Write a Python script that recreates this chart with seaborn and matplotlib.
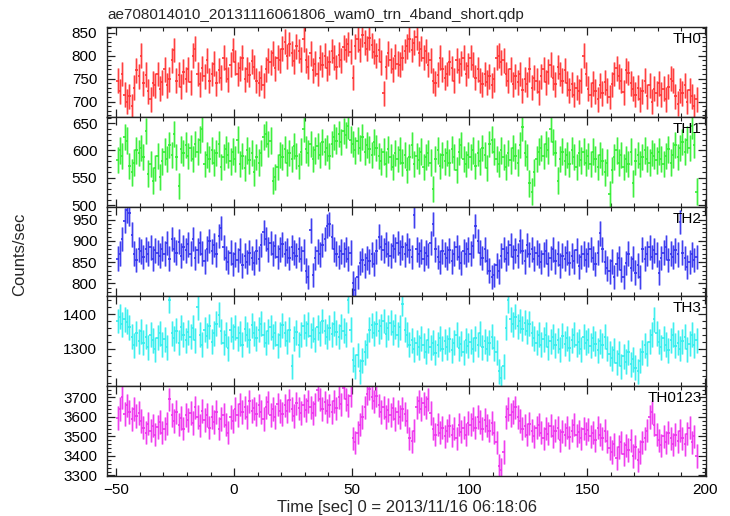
import numpy as np
import pandas as pd
import matplotlib
matplotlib.use("Agg")
import matplotlib.pyplot as plt
import seaborn as sns
from matplotlib.ticker import MultipleLocator, FixedLocator

# ---------------- data (1-s bins, centres from -49.5 s to 196.5 s) ----------------
t_first = -49.5
t_last = 196.5
bin_half = 0.5

th0 = [745, 722, 760, 715, 700, 712, 690, 730, 768, 755,
       800, 740, 758, 722, 705, 740, 735, 760, 728, 742,
       770, 735, 748, 790, 812, 745, 758, 732, 765, 748,
       770, 742, 800, 815, 760, 738, 772, 755, 790, 745,
       760, 782, 740, 768, 752, 795, 770, 748, 780, 812,
       785, 760, 772, 795, 748, 770, 758, 788, 775, 745,
       740, 752, 735, 770, 790, 785, 805, 772, 795, 790,
       815, 830, 798, 825, 805, 788, 820, 810, 792, 835,
       790, 775, 805, 768, 782, 760, 795, 780, 800, 772,
       785, 810, 795, 775, 802, 790, 818, 812, 825, 808,
       752, 820, 835, 812, 845, 828, 815, 838, 822, 808,
       800, 812, 785, 718, 775, 805, 790, 770, 798, 782,
       780, 795, 810, 820, 835, 812, 828, 840, 805, 815,
       795, 810, 780, 790, 745, 740, 758, 795, 770, 752,
       760, 785, 772, 745, 790, 768, 782, 795, 760, 778,
       795, 780, 752, 770, 745, 738, 760, 742, 755, 735,
       748, 795, 800, 785, 790, 760, 745, 770, 738, 755,
       742, 760, 725, 748, 738, 770, 730, 752, 745, 720,
       755, 770, 742, 765, 780, 752, 738, 775, 760, 745,
       768, 740, 725, 738, 715, 730, 722, 745, 800, 760,
       728, 715, 740, 722, 705, 735, 718, 742, 725, 710,
       738, 760, 772, 755, 745, 720, 768, 762, 740, 728,
       715, 730, 705, 722, 745, 712, 735, 700, 728, 718,
       740, 715, 728, 705, 732, 750, 745, 712, 695, 725,
       718, 735, 700, 725, 712, 690, 705]

th1 = [583, 600, 590, 625, 618, 572, 560, 578, 600, 595,
       604, 588, 635, 558, 575, 545, 568, 590, 552, 580,
       598, 585, 610, 592, 630, 588, 535, 602, 595, 610,
       590, 605, 585, 612, 598, 620, 640, 575, 592, 585,
       600, 578, 595, 612, 570, 588, 602, 592, 580, 598,
       585, 620, 575, 590, 568, 600, 582, 595, 560, 588,
       578, 595, 625, 630, 612, 618, 545, 552, 570, 592,
       588, 602, 578, 595, 585, 608, 590, 572, 598, 640,
       602, 595, 612, 585, 600, 608, 592, 615, 598, 605,
       590, 612, 625, 618, 630, 615, 635, 628, 645, 620,
       612, 600, 618, 605, 625, 598, 610, 602, 592, 615,
       605, 590, 580, 598, 575, 602, 588, 570, 595, 585,
       600, 578, 592, 565, 588, 610, 575, 590, 582, 598,
       570, 588, 595, 578, 530, 585, 600, 572, 592, 580,
       595, 578, 602, 588, 565, 598, 610, 585, 575, 592,
       588, 600, 572, 595, 580, 605, 592, 568, 612, 620,
       598, 585, 575, 600, 588, 570, 595, 582, 605, 590,
       578, 610, 642, 595, 588, 540, 525, 560, 585, 598,
       605, 590, 612, 600, 640, 615, 595, 545, 585, 598,
       580, 592, 575, 600, 588, 570, 595, 582, 598, 578,
       590, 575, 598, 585, 570, 592, 580, 560, 578, 520,
       565, 588, 600, 578, 592, 570, 585, 575, 598, 540,
       580, 592, 575, 588, 600, 585, 578, 595, 590, 582,
       598, 585, 575, 590, 602, 578, 592, 610, 588, 605,
       615, 598, 620, 605, 645, 610, 525]

th2 = [858, 870, 905, 948, 972, 965, 915, 870, 855, 880,
       875, 862, 880, 870, 885, 858, 878, 872, 865, 882,
       870, 895, 858, 905, 880, 872, 898, 865, 885, 878,
       892, 870, 905, 860, 878, 895, 870, 852, 882, 900,
       875, 890, 868, 912, 930, 885, 860, 850, 872, 845,
       868, 855, 878, 842, 865, 850, 872, 860, 848, 875,
       858, 890, 920, 905, 880, 895, 870, 888, 862, 880,
       892, 870, 878, 860, 885, 872, 865, 880, 858, 875,
       830, 815, 925, 820, 860, 875, 868, 890, 905, 935,
       940, 910, 880, 870, 862, 875, 868, 880, 858, 872,
       800, 785, 815, 848, 855, 842, 860, 852, 868, 845,
       875, 910, 885, 878, 892, 870, 865, 888, 880, 895,
       872, 885, 868, 890, 878, 862, 960, 880, 868, 875,
       858, 872, 865, 895, 940, 880, 862, 850, 875, 868,
       860, 878, 852, 870, 885, 862, 848, 875, 868, 880,
       870, 888, 935, 900, 872, 860, 880, 852, 830, 815,
       820, 842, 828, 865, 880, 858, 872, 890, 862, 878,
       865, 900, 875, 852, 890, 868, 880, 858, 872, 865,
       850, 868, 875, 845, 860, 880, 852, 870, 842, 865,
       858, 872, 848, 865, 852, 878, 840, 862, 870, 855,
       868, 880, 860, 845, 872, 918, 880, 850, 835, 828,
       852, 815, 845, 860, 832, 815, 848, 870, 835, 858,
       825, 842, 815, 880, 858, 870, 885, 862, 878, 868,
       825, 860, 872, 885, 855, 870, 862, 878, 868, 945,
       872, 860, 838, 850, 868, 855, 862]

th3 = [1380, 1392, 1370, 1385, 1378, 1362, 1335, 1310, 1345, 1322,
       1350, 1318, 1335, 1305, 1340, 1325, 1298, 1332, 1345, 1312,
       1328, 1305, 1440, 1345, 1330, 1352, 1318, 1362, 1340, 1325,
       1348, 1335, 1360, 1325, 1420, 1340, 1312, 1355, 1338, 1365,
       1320, 1345, 1372, 1398, 1350, 1318, 1340, 1302, 1355, 1335,
       1362, 1330, 1345, 1312, 1358, 1340, 1325, 1368, 1345, 1330,
       1355, 1372, 1340, 1318, 1350, 1362, 1335, 1345, 1310, 1340,
       1368, 1345, 1322, 1355, 1250, 1330, 1348, 1312, 1340, 1365,
       1345, 1370, 1338, 1355, 1328, 1362, 1345, 1380, 1350, 1335,
       1360, 1342, 1372, 1348, 1335, 1365, 1352, 1340, 1440, 1355,
       1268, 1250, 1282, 1235, 1265, 1290, 1310, 1355, 1368, 1345,
       1372, 1350, 1365, 1380, 1342, 1360, 1375, 1348, 1365, 1340,
       1362, 1430, 1355, 1340, 1312, 1325, 1298, 1318, 1305, 1330,
       1310, 1292, 1325, 1305, 1318, 1288, 1312, 1330, 1300, 1322,
       1305, 1328, 1295, 1318, 1340, 1302, 1315, 1290, 1325, 1308,
       1320, 1298, 1330, 1312, 1345, 1305, 1322, 1300, 1318, 1335,
       1302, 1290, 1235, 1215, 1250, 1360, 1440, 1385, 1370, 1392,
       1365, 1380, 1358, 1375, 1350, 1372, 1345, 1330, 1318, 1340,
       1312, 1328, 1340, 1305, 1322, 1335, 1310, 1325, 1298, 1338,
       1315, 1330, 1302, 1325, 1340, 1312, 1320, 1298, 1335, 1318,
       1325, 1308, 1330, 1315, 1295, 1322, 1310, 1335, 1300, 1285,
       1272, 1295, 1260, 1285, 1250, 1278, 1262, 1290, 1255, 1270,
       1245, 1235, 1265, 1290, 1310, 1285, 1320, 1340, 1385, 1345,
       1320, 1305, 1330, 1312, 1295, 1325, 1340, 1308, 1318, 1300,
       1322, 1335, 1298, 1315, 1340, 1310, 1325]

th0123 = [3595, 3640, 3700, 3615, 3660, 3625, 3590, 3640, 3605, 3620,
          3580, 3545, 3520, 3565, 3530, 3555, 3510, 3548, 3575, 3520,
          3540, 3565, 3690, 3610, 3580, 3625, 3560, 3595, 3540, 3610,
          3585, 3620, 3570, 3650, 3600, 3555, 3630, 3585, 3610, 3545,
          3600, 3575, 3625, 3540, 3590, 3610, 3560, 3520, 3600, 3580,
          3640, 3610, 3665, 3625, 3650, 3600, 3680, 3630, 3645, 3615,
          3660, 3625, 3590, 3650, 3675, 3610, 3640, 3600, 3665, 3630,
          3615, 3660, 3630, 3685, 3640, 3605, 3670, 3645, 3620, 3660,
          3635, 3680, 3650, 3620, 3665, 3740, 3690, 3640, 3675, 3630,
          3660, 3625, 3680, 3645, 3700, 3665, 3750, 3690, 3660, 3710,
          3490, 3470, 3520, 3560, 3600, 3650, 3720, 3745, 3700, 3680,
          3710, 3660, 3625, 3650, 3600, 3635, 3610, 3645, 3590, 3625,
          3600, 3640, 3615, 3580, 3490, 3475, 3530, 3650, 3680, 3640,
          3670, 3650, 3690, 3620, 3540, 3510, 3560, 3520, 3545, 3500,
          3530, 3555, 3505, 3540, 3490, 3560, 3525, 3545, 3510, 3570,
          3560, 3590, 3545, 3600, 3575, 3540, 3585, 3555, 3530, 3570,
          3520, 3470, 3350, 3330, 3420, 3600, 3640, 3610, 3625, 3650,
          3600, 3580, 3540, 3555, 3510, 3565, 3530, 3500, 3545, 3560,
          3520, 3490, 3540, 3515, 3555, 3500, 3530, 3545, 3480, 3525,
          3510, 3545, 3495, 3530, 3560, 3505, 3525, 3490, 3540, 3515,
          3535, 3500, 3520, 3480, 3545, 3510, 3490, 3530, 3475, 3440,
          3420, 3460, 3390, 3445, 3470, 3410, 3455, 3430, 3480, 3400,
          3445, 3380, 3420, 3470, 3490, 3530, 3600, 3625, 3560, 3510,
          3480, 3455, 3500, 3470, 3520, 3490, 3460, 3510, 3475, 3530,
          3490, 3460, 3515, 3545, 3470, 3500, 3400]

band_names = ["TH0", "TH1", "TH2", "TH3", "TH0123"]
band_errors = [27, 24, 29, 36, 60]
band_colors = ["#ff3333", "#33ee33", "#3333ee", "#33eeee", "#ee33ee"]
band_ylims = [(667, 862), (497.6, 661.5), (769, 981), (1192, 1451), (3297, 3758)]
band_ticks = [[700, 750, 800, 850], [500, 550, 600, 650], [800, 850, 900, 950],
              [1300, 1400], [3300, 3400, 3500, 3600, 3700]]
band_minor = [10, 10, 10, 20, 20]

series = [th0, th1, th2, th3, th0123]
n = len(th0)
time = np.linspace(t_first, t_last, n)

frames = []
for name, vals, err in zip(band_names, series, band_errors):
    assert len(vals) == n, (name, len(vals))
    frames.append(pd.DataFrame({"time": time, "rate": vals, "err": err, "band": name}))
df = pd.concat(frames, ignore_index=True)

# ---------------- style ----------------
sns.set_theme(style="ticks")
plt.rcParams["font.family"] = ["Liberation Sans", "DejaVu Sans"]
plt.rcParams["axes.linewidth"] = 1.0
plt.rcParams["xtick.direction"] = "in"
plt.rcParams["ytick.direction"] = "in"

fig = plt.figure(figsize=(7.3, 5.16), dpi=100)
left, right = 107 / 730, 706 / 730
top, bottom = 1 - 27 / 516, 1 - 476 / 516
gs = fig.add_gridspec(5, 1, left=left, right=right, top=top, bottom=bottom, hspace=0)

axes = []
for i, (name, col, ylim, tks, mn) in enumerate(zip(band_names, band_colors, band_ylims, band_ticks, band_minor)):
    ax = fig.add_subplot(gs[i, 0], sharex=axes[0] if axes else None)
    axes.append(ax)
    d = df[df["band"] == name]
    ax.errorbar(d["time"], d["rate"], yerr=d["err"], fmt="none", ecolor=col,
                elinewidth=1.8, alpha=0.45, capsize=0)
    ax.errorbar(d["time"], d["rate"], yerr=d["err"], fmt="none", ecolor=col,
                elinewidth=0.7, alpha=0.9, capsize=0)
    ax.errorbar(d["time"], d["rate"], xerr=bin_half, fmt="none", ecolor=col,
                elinewidth=1.2, capsize=0)
    ax.set_ylim(*ylim)
    ax.set_xlim(-54, 200.5)
    ax.yaxis.set_major_locator(FixedLocator(tks))
    ax.yaxis.set_minor_locator(MultipleLocator(mn))
    ax.xaxis.set_major_locator(MultipleLocator(50))
    ax.xaxis.set_minor_locator(MultipleLocator(10))
    ax.tick_params(which="both", direction="in", top=True, right=True,
                   bottom=True, left=True, colors="#222222", labelcolor="black")
    ax.tick_params(which="major", length=6, width=0.9, labelsize=11, pad=7)
    ax.tick_params(which="minor", length=3, width=0.8)
    ax.set_ylabel("")
    ax.set_xlabel("")
    for sp in ax.spines.values():
        sp.set_visible(True)
        sp.set_color("#222222")
    ax.text(0.993, 1 - 16 / 90, name, transform=ax.transAxes, ha="right",
            va="baseline", fontsize=11, color="black")
    if i < 4:
        ax.tick_params(labelbottom=False)

axes[-1].tick_params(axis="x", pad=5)

fig.text(left, 1 - 19 / 516, "ae708014010_20131116061806_wam0_trn_4band_short.qdp",
         ha="left", va="baseline", fontsize=11)
fig.text(20 / 730, 1 - 254 / 516, "Counts/sec", rotation=90, ha="center",
         va="center", fontsize=12)
fig.text((left + right) / 2, 1 - 512 / 516, "Time [sec] 0 = 2013/11/16 06:18:06",
         ha="center", va="baseline", fontsize=12)

fig.savefig("out.png", dpi=100)
